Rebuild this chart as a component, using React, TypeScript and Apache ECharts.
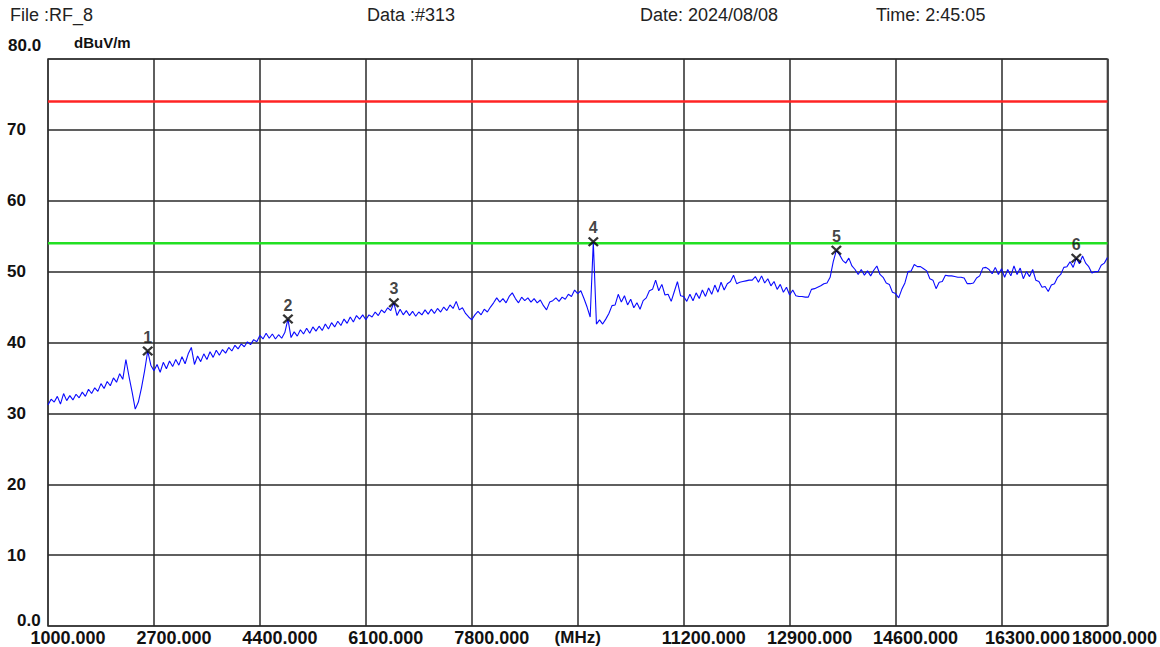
import React, { useEffect, useRef } from 'react';
import * as echarts from 'echarts';

// ---------- data ----------
const HEADER_TEXTS = ['File :RF_8', 'Data :#313', 'Date: 2024/08/08', 'Time: 2:45:05'];
const START_MHZ = 1000;
const STOP_MHZ = 18000;
const STEP_MHZ = 50;
const X_TICK_STEP = 1700;
const X_UNIT = '(MHz)';
const X_UNIT_AT = 9500;
const Y_MIN = 0;
const Y_MAX = 80;
const Y_STEP = 10;
const Y_UNIT = 'dBuV/m';
const LIMIT_RED = 74;
const LIMIT_GREEN = 54;

// measured level (dBuV/m), one value every STEP_MHZ starting at START_MHZ
const LEVELS = [
  31.2, 32.0, 31.6, 32.4, 31.3, 32.8, 31.8, 32.5, 31.9, 32.7,
  32.2, 33.0, 32.4, 33.4, 32.8, 33.6, 33.1, 34.2, 33.5, 34.5,
  33.9, 35.0, 34.4, 35.6, 34.8, 37.6, 35.2, 33.0, 30.6, 31.6,
  33.6, 36.0, 38.8, 36.8, 36.0, 36.9, 35.8, 37.2, 36.3, 37.4,
  36.6, 37.6, 36.8, 38.0, 37.0, 38.4, 39.3, 36.9, 38.1, 37.3,
  38.4, 37.6, 38.7, 37.9, 38.9, 38.2, 39.0, 38.5, 39.3, 38.8,
  39.6, 39.1, 39.8, 39.4, 40.1, 39.7, 40.4, 40.1, 41.0, 40.5,
  41.3, 40.6, 41.2, 40.5, 41.1, 40.6, 41.4, 43.3, 40.7, 41.5,
  40.9, 41.8, 41.2, 42.0, 41.3, 42.2, 41.6, 42.3, 41.7, 42.6,
  41.9, 42.8, 42.2, 43.0, 42.4, 43.3, 42.7, 43.6, 42.9, 43.8,
  43.3, 43.9, 43.2, 43.9, 43.6, 44.3, 43.8, 44.6, 44.2, 44.9,
  44.5, 45.6, 43.8, 44.7, 43.9, 44.5, 43.8, 44.4, 43.7, 44.3,
  43.9, 44.6, 44.0, 44.7, 44.1, 44.8, 44.3, 45.0, 44.5, 45.3,
  44.8, 45.8, 44.6, 44.9, 44.1, 43.6, 43.2, 43.9, 44.4, 43.9,
  44.7, 44.3, 45.0, 45.6, 46.3, 45.7, 46.2, 45.6, 46.5, 47.0,
  46.2, 45.6, 46.4, 45.9, 46.3, 45.7, 46.2, 45.6, 46.0, 45.2,
  44.6, 45.7, 45.9, 46.3, 45.8, 46.4, 46.1, 46.8, 46.5, 47.4,
  46.9, 47.3, 46.2, 45.0, 43.6, 54.2, 42.6, 43.2, 42.6, 43.3,
  44.1, 45.2, 45.3, 46.8, 45.7, 46.6, 45.3, 46.1, 44.9, 45.6,
  44.7, 45.9, 46.3, 47.3, 47.5, 48.8, 47.3, 48.2, 46.7, 46.8,
  45.8, 47.2, 48.6, 46.6, 46.5, 45.8, 46.8, 45.9, 47.0, 46.2,
  47.4, 46.5, 47.7, 46.8, 48.1, 47.1, 48.5, 47.4, 48.3, 48.6,
  49.5, 48.3, 48.5, 48.6, 48.7, 48.8, 48.8, 49.3, 48.5, 49.4,
  48.4, 49.0, 48.0, 48.6, 47.5, 48.2, 47.1, 47.8, 46.7, 47.4,
  46.6, 46.5, 46.5, 46.4, 46.4, 47.5, 47.6, 47.8, 48.0, 48.3,
  48.4, 49.2, 51.4, 53.0, 52.4, 51.6, 51.2, 51.9, 50.8, 50.3,
  49.6, 50.3, 49.5, 50.1, 49.4, 50.2, 50.8, 49.6, 49.2, 48.4,
  48.2, 47.1, 46.9, 46.3, 47.5, 48.4, 50.0, 50.1, 51.0, 50.7,
  50.7, 50.4, 50.1, 49.0, 48.8, 47.6, 48.5, 48.6, 49.5, 49.4,
  49.4, 49.3, 49.2, 49.2, 49.1, 48.3, 48.3, 48.4, 49.1, 49.4,
  50.5, 50.6, 50.3, 49.7, 50.6, 49.6, 50.4, 49.2, 50.3, 49.4,
  50.8, 49.6, 50.5, 49.0, 50.0, 49.3, 50.3, 48.8, 48.6, 47.8,
  47.9, 47.2, 48.1, 48.3, 49.2, 49.6, 50.6, 50.7, 51.4, 50.6,
  51.9, 51.1, 52.2, 51.2, 50.7, 49.8, 50.0, 50.0, 50.9, 51.2, 52.0,
];

const MARKER_IDS = ['1', '2', '3', '4', '5', '6'];
const MARKER_MHZ = [2600, 4850, 6550, 9750, 13650, 17500];
const MARKER_LEVELS = [38.8, 43.3, 45.6, 54.2, 53.0, 51.9];

// ---------- styling ----------
const FONT = '"Liberation Sans", Arial, sans-serif';
const X_SYMBOL = 'path://M0,1.5L1.5,0L5,3.5L8.5,0L10,1.5L6.5,5L10,8.5L8.5,10L5,6.5L1.5,10L0,8.5L3.5,5Z';

export default function App() {
  const ref = useRef<HTMLDivElement>(null);

  useEffect(() => {
    if (!ref.current) return;
    const chart = echarts.init(ref.current, undefined, { renderer: 'svg' });
    const span = STOP_MHZ - START_MHZ;
    const trace = LEVELS.map((v, i) => [i * STEP_MHZ, v]);
    const markers = MARKER_MHZ.map((f, i) => ({
      name: MARKER_IDS[i],
      value: [f - START_MHZ, MARKER_LEVELS[i]],
    }));
    const lastTick = STOP_MHZ;
    const prevTick = STOP_MHZ - X_TICK_STEP;

    const headerX = [10, 367, 640, 876];

    chart.setOption({
      animation: false,
      backgroundColor: '#ffffff',
      grid: {
        left: 48,
        right: 52,
        top: 59,
        bottom: 21,
        show: true,
        borderColor: '#8a8a8a',
        borderWidth: 2,
      },
      xAxis: {
        type: 'value',
        min: 0,
        max: span,
        interval: X_TICK_STEP,
        axisLine: { show: false },
        axisTick: { show: false },
        splitLine: { show: true, lineStyle: { color: '#2a2a2a', width: 1.5 } },
        axisLabel: {
          show: true,
          interval: 0,
          showMinLabel: true,
          showMaxLabel: true,
          margin: 3,
          color: '#111',
          formatter: (v: number) => {
            const mhz = Math.round(v + START_MHZ);
            if (mhz === X_UNIT_AT) return '{u|' + X_UNIT + '}';
            const t = mhz.toFixed(3);
            if (mhz === lastTick) return '{q|' + t + '}';
            if (mhz === prevTick) return '{p|' + t + '}';
            return '{n|' + t + '}';
          },
          rich: {
            n: { fontFamily: FONT, fontSize: 18, fontWeight: 'bold', color: '#111', padding: [0, 0, 0, 40] },
            p: { fontFamily: FONT, fontSize: 18, fontWeight: 'bold', color: '#111', padding: [0, 0, 0, 52] },
            q: { fontFamily: FONT, fontSize: 18, fontWeight: 'bold', color: '#111', padding: [0, 0, 0, 14] },
            u: { fontFamily: FONT, fontSize: 17, fontWeight: 'bold', color: '#111' },
          },
        },
      },
      yAxis: {
        type: 'value',
        min: Y_MIN,
        max: Y_MAX,
        interval: Y_STEP,
        name: Y_UNIT,
        nameLocation: 'end',
        nameGap: 9,
        nameTextStyle: {
          fontFamily: FONT,
          fontSize: 15,
          fontWeight: 'bold',
          color: '#111',
          align: 'left',
          padding: [0, 0, 0, 26],
        },
        axisLine: { show: false },
        axisTick: { show: false },
        splitLine: { show: true, lineStyle: { color: '#2a2a2a', width: 1.5 } },
        axisLabel: {
          show: true,
          align: 'left',
          margin: 41,
          formatter: (v: number) => {
            if (v === Y_MAX) return '{top|' + v.toFixed(1) + '}';
            if (v === Y_MIN) return '{bot|' + v.toFixed(1) + '}';
            return '{n|' + v + '}';
          },
          rich: {
            n: { fontFamily: FONT, fontSize: 17, fontWeight: 'bold', color: '#111' },
            top: { fontFamily: FONT, fontSize: 17, fontWeight: 'bold', color: '#111', padding: [0, 0, 28, 1] },
            bot: { fontFamily: FONT, fontSize: 17, fontWeight: 'bold', color: '#111', padding: [0, 0, 12, 10] },
          },
        },
      },
      graphic: HEADER_TEXTS.map((t, i) => ({
        type: 'text',
        x: headerX[i],
        y: 15,
        style: {
          text: t,
          fill: '#222',
          font: '18px ' + FONT,
          textVerticalAlign: 'middle',
          verticalAlign: 'middle',
        },
      })),
      series: [
        {
          type: 'line',
          name: 'limit-red',
          data: [[0, LIMIT_RED], [span, LIMIT_RED]],
          symbol: 'none',
          lineStyle: { color: '#ff2424', width: 2.5 },
          z: 3,
        },
        {
          type: 'line',
          name: 'limit-green',
          data: [[0, LIMIT_GREEN], [span, LIMIT_GREEN]],
          symbol: 'none',
          lineStyle: { color: '#22e022', width: 2.5 },
          z: 3,
        },
        {
          type: 'line',
          name: 'trace',
          data: trace,
          symbol: 'none',
          lineStyle: { color: '#0a0aff', width: 1.1 },
          z: 4,
        },
        {
          type: 'scatter',
          name: 'markers',
          data: markers,
          symbol: X_SYMBOL,
          symbolSize: [11, 10],
          itemStyle: { color: '#000' },
          label: {
            show: true,
            position: 'top',
            distance: 1,
            formatter: '{b}',
            fontFamily: FONT,
            fontSize: 16,
            fontWeight: 'bold',
            color: '#111',
          },
          z: 5,
        },
      ],
    });

    return () => chart.dispose();
  }, []);

  return (
    <div
      ref={ref}
      style={{ position: 'absolute', left: 0, top: 0, width: 1160, height: 647, background: '#fff' }}
    />
  );
}
